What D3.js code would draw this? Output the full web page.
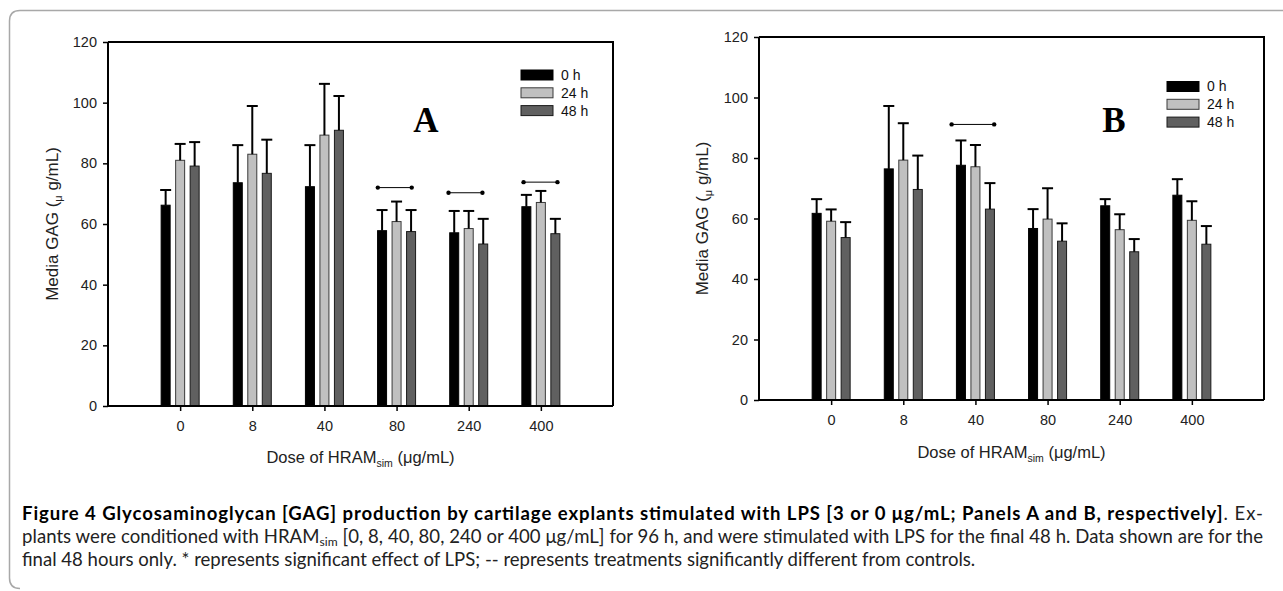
<!DOCTYPE html>
<html><head><meta charset="utf-8">
<script src="https://cdn.jsdelivr.net/npm/d3@7"></script>
<style>
html,body{margin:0;padding:0;background:#fff;}
svg{display:block;}
</style></head>
<body>
<svg id="chart" width="1283" height="591"></svg>
<script>
// ---------- data ----------
const categories = ["0", "8", "40", "80", "240", "400"];
const seriesNames = ["0 h", "24 h", "48 h"];
const yTicks = [0, 20, 40, 60, 80, 100, 120];

// Panel A (LPS 3 µg/mL)
const panelA_0h  = [66.2, 73.6, 72.3, 57.8, 57.1, 65.7];
const panelA_24h = [81.0, 83.0, 89.3, 60.8, 58.5, 67.1];
const panelA_48h = [79.1, 76.7, 90.9, 57.5, 53.4, 56.8];
const panelA_0h_err  = [5.0, 12.4, 13.7, 6.8, 7.2, 3.9];
const panelA_24h_err = [5.4, 15.9, 16.9, 6.6, 5.8, 3.8];
const panelA_48h_err = [7.9, 11.1, 11.3, 7.1, 8.3, 4.9];
// significance bars: [start, end, level] in category-axis units
const panelA_sig = [[3.74, 4.21, 72.0], [4.72, 5.19, 70.3], [5.76, 6.23, 73.8]];

// Panel B (LPS 0 µg/mL)
const panelB_0h  = [61.7, 76.4, 77.6, 56.7, 64.2, 67.7];
const panelB_24h = [59.1, 79.3, 77.1, 59.8, 56.3, 59.4];
const panelB_48h = [53.7, 69.6, 63.1, 52.5, 49.0, 51.5];
const panelB_0h_err  = [4.7, 20.8, 8.2, 6.4, 2.2, 5.3];
const panelB_24h_err = [3.9, 12.2, 7.2, 10.2, 5.1, 6.3];
const panelB_48h_err = [5.1, 11.2, 8.6, 5.9, 4.2, 6.0];
const panelB_sig = [[2.67, 3.26, 91.1]];

const captionBold = "Figure 4 Glycosaminoglycan [GAG] production by cartilage explants stimulated with LPS [3 or 0 μg/mL; Panels A and B, respectively]";

// ---------- styles ----------
const fills = ["#000000", "#c0c0c0", "#606060"];
const strokes = ["#000000", "#3a3a3a", "#1a1a1a"];
const sans = "'Liberation Sans', Arial, sans-serif";

const svg = d3.select("#chart");

// outer frame
svg.append("path")
  .attr("d", "M1290,10.5 L20,10.5 Q9.5,10.5 9.5,21 L9.5,578 Q9.5,588.5 20,588.5")
  .attr("fill", "none").attr("stroke", "#a8a8a8").attr("stroke-width", 1.5);

function drawPanel(cfg) {
  const g = svg.append("g");
  const x = d3.scaleLinear().domain([0, categories.length + 1]).range([cfg.left, cfg.right]);
  const y = d3.scaleLinear().domain([0, 120]).range([cfg.bottom, cfg.top]);
  const barW = 9, step = 14.5;
  const series = [
    {vals: cfg.s0, errs: cfg.e0},
    {vals: cfg.s1, errs: cfg.e1},
    {vals: cfg.s2, errs: cfg.e2}
  ];

  // bars
  series.forEach((s, si) => {
    const off = (si - 1) * step;
    g.append("g").selectAll("rect").data(s.vals).join("rect")
      .attr("x", (d, i) => x(i + 1) + off - barW / 2)
      .attr("y", d => y(d))
      .attr("width", barW)
      .attr("height", d => y(0) - y(d))
      .attr("fill", fills[si])
      .attr("stroke", strokes[si])
      .attr("stroke-width", 1);
    // error bars
    const eg = g.append("g").attr("stroke", "#000").attr("stroke-width", 2);
    s.vals.forEach((v, i) => {
      const cx = x(i + 1) + off;
      eg.append("line").attr("x1", cx).attr("x2", cx)
        .attr("y1", y(v)).attr("y2", y(v + s.errs[i]));
      eg.append("line").attr("x1", cx - 5.5).attr("x2", cx + 5.5)
        .attr("y1", y(v + s.errs[i])).attr("y2", y(v + s.errs[i]));
    });
  });

  // significance lines
  cfg.sig.forEach(sg => {
    g.append("line").attr("x1", x(sg[0])).attr("x2", x(sg[1]))
      .attr("y1", y(sg[2])).attr("y2", y(sg[2]))
      .attr("stroke", "#000").attr("stroke-width", 1);
    [sg[0], sg[1]].forEach(px => g.append("circle")
      .attr("cx", x(px)).attr("cy", y(sg[2])).attr("r", 2.2).attr("fill", "#000"));
  });

  // frame (top/right)
  g.append("path")
    .attr("d", `M${cfg.left},${cfg.top} L${cfg.right},${cfg.top} L${cfg.right},${cfg.bottom}`)
    .attr("fill", "none").attr("stroke", "#000").attr("stroke-width", 2);

  // axes
  const ya = g.append("g").attr("transform", `translate(${cfg.left},0)`)
    .call(d3.axisLeft(y).tickValues(yTicks).tickSize(5).tickPadding(6));
  const xa = g.append("g").attr("transform", `translate(0,${cfg.bottom})`)
    .call(d3.axisBottom(x).tickValues(d3.range(1, categories.length + 1))
      .tickFormat(d => categories[d - 1]).tickSize(5).tickPadding(10));
  [ya, xa].forEach(a => {
    a.attr("font-size", null).attr("font-family", null);
    a.select(".domain").attr("stroke", "#000").attr("stroke-width", 2);
    a.selectAll(".tick line").attr("stroke", "#000").attr("stroke-width", 1.5);
    a.selectAll(".tick text").attr("font-family", sans).attr("font-size", 14.5).attr("fill", "#222");
  });
  ya.select(".domain").attr("d", `M0,${cfg.bottom}V${cfg.top}`);
  xa.select(".domain").attr("d", `M${cfg.left},0H${cfg.right}`);

  // axis titles
  const xt = g.append("text")
    .attr("x", (cfg.left + cfg.right) / 2).attr("y", cfg.xTitleY)
    .attr("text-anchor", "middle").attr("font-family", sans).attr("font-size", 16.5).attr("fill", "#222");
  xt.append("tspan").text("Dose of HRAM");
  xt.append("tspan").attr("font-size", 10.5).attr("dy", 4).text("sim");
  xt.append("tspan").attr("dy", -4).text(" (μg/mL)");

  const yt = g.append("text")
    .attr("transform", `translate(${cfg.yTitleX},${(cfg.top + cfg.bottom) / 2}) rotate(-90)`)
    .attr("text-anchor", "middle").attr("font-family", sans).attr("font-size", 17).attr("fill", "#222");
  yt.append("tspan").text("Media GAG (");
  yt.append("tspan").attr("font-size", 11).attr("dy", 4).text("μ");
  yt.append("tspan").attr("dy", -4).text(" g/mL)");

  // legend
  const lg = g.append("g");
  seriesNames.forEach((n, i) => {
    lg.append("rect").attr("x", cfg.legX).attr("y", cfg.legY + i * 17.8)
      .attr("width", 32).attr("height", 10)
      .attr("fill", fills[i]).attr("stroke", strokes[i]).attr("stroke-width", 1);
    lg.append("text").attr("x", cfg.legX + 40).attr("y", cfg.legY + i * 17.8 + 5)
      .attr("dy", "0.35em").attr("font-family", sans).attr("font-size", 14).attr("fill", "#111")
      .text(n);
  });

  // panel letter
  g.append("text").attr("x", cfg.letterX).attr("y", cfg.letterY)
    .attr("text-anchor", "middle").attr("font-family", "'Liberation Serif', 'Times New Roman', serif")
    .attr("font-weight", "bold").attr("font-size", 35).attr("fill", "#000").text(cfg.letter);
}

drawPanel({
  left: 108, right: 613, top: 42, bottom: 406,
  s0: panelA_0h, s1: panelA_24h, s2: panelA_48h,
  e0: panelA_0h_err, e1: panelA_24h_err, e2: panelA_48h_err,
  sig: panelA_sig, legX: 521, legY: 70, letter: "A", letterX: 426, letterY: 132,
  xTitleY: 463, yTitleX: 58
});
drawPanel({
  left: 759, right: 1264, top: 37, bottom: 400,
  s0: panelB_0h, s1: panelB_24h, s2: panelB_48h,
  e0: panelB_0h_err, e1: panelB_24h_err, e2: panelB_48h_err,
  sig: panelB_sig, legX: 1167, legY: 81.5, letter: "B", letterX: 1114, letterY: 132,
  xTitleY: 458, yTitleX: 708
});

// ---------- caption ----------
const capFont = "Lato, 'Noto Sans', sans-serif";
const capLeft = 22, capRight = 1263;
const cap = svg.append("g").attr("font-family", capFont).attr("fill", "#222");

const l2 = cap.append("text").attr("x", capLeft).attr("y", 543);
l2.append("tspan").text("plants were conditioned with HRAM");
l2.append("tspan").attr("font-size", "0.65em").attr("dy", 3).text("sim");
l2.append("tspan").attr("dy", -3).text(" [0, 8, 40, 80, 240 or 400 μg/mL] for 96 h, and were stimulated with LPS for the final 48 h. Data shown are for the");

const l1 = cap.append("text").attr("x", capLeft).attr("y", 520);
l1.append("tspan").attr("font-weight", "bold").attr("fill", "#000").text(captionBold);
l1.append("tspan").text(". Ex-");

const l3 = cap.append("text").attr("x", capLeft).attr("y", 566)
  .text("final 48 hours only. * represents significant effect of LPS; -- represents treatments significantly different from controls.");

// fit font size so the justified line 2 is close to its natural width
let fs = 16;
cap.attr("font-size", fs);
const w2 = l2.node().getComputedTextLength();
fs = fs * (capRight - capLeft - 6) / w2;
cap.attr("font-size", fs);
[l1, l2].forEach(t => t.attr("textLength", capRight - capLeft).attr("lengthAdjust", "spacing"));
</script>
</body></html>
